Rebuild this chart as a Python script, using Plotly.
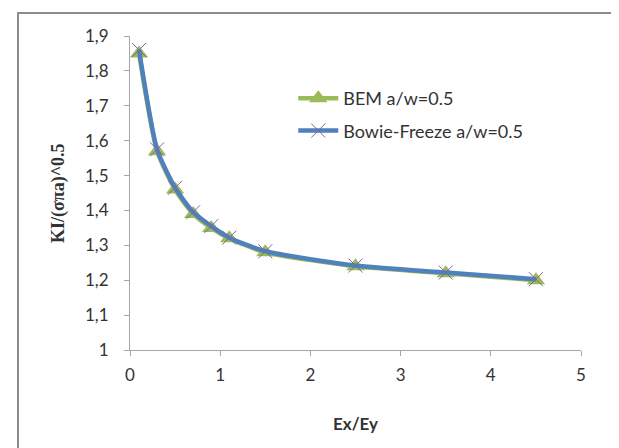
import plotly.graph_objects as go

ratio = [0.1, 0.3, 0.5, 0.7, 0.9, 1.1, 1.5, 2.5, 3.5, 4.5]
bem = [1.85, 1.57, 1.46, 1.39, 1.35, 1.32, 1.28, 1.24, 1.22, 1.20]
bowie = [1.86, 1.575, 1.465, 1.395, 1.355, 1.322, 1.283, 1.242, 1.222, 1.203]
y_ticks = [1.0, 1.1, 1.2, 1.3, 1.4, 1.5, 1.6, 1.7, 1.8, 1.9]
y_tick_labels = ["1", "1,1", "1,2", "1,3", "1,4", "1,5", "1,6", "1,7", "1,8", "1,9"]
x_ticks = [0, 1, 2, 3, 4, 5]

L, R, T, B = 122, 46, 28, 106
PW = 619 - L - R
PH = 448 - T - B

fig = go.Figure()
fig.add_trace(go.Scatter(
    x=ratio, y=bem, name="BEM a/w=0.5", mode="lines+markers",
    line=dict(color="#9BBB59", width=4.5, shape="spline", smoothing=0.6),
    marker=dict(symbol="triangle-up", size=16, color="#9BBB59"),
    legendgroup="a"))
fig.add_trace(go.Scatter(
    x=ratio, y=bowie, name="Bowie-Freeze a/w=0.5", mode="lines+markers",
    line=dict(color="#4F81BD", width=4.5, shape="spline", smoothing=0.6),
    marker=dict(symbol="x-thin", size=14, color="#8064A2",
                line=dict(color="#8064A2", width=1)),
    legendgroup="b"))

fig.update_layout(
    width=619, height=448,
    margin=dict(l=L, r=R, t=T, b=B),
    paper_bgcolor="white", plot_bgcolor="white",
    font=dict(family="Lato, Open Sans, sans-serif", size=17, color="#333"),
    showlegend=True,
    legend=dict(x=0.362, y=0.86, xanchor="left", yanchor="top",
                bgcolor="rgba(0,0,0,0)", tracegroupgap=6,
                font=dict(size=18), itemwidth=40),
    xaxis=dict(range=[0, 5], tickvals=x_ticks, showgrid=False, zeroline=False,
               showline=True, linecolor="#A6A6A6", linewidth=1,
               ticks="outside", ticklen=5, tickcolor="#A6A6A6",
               ticklabelstandoff=5),
    yaxis=dict(range=[1.0, 1.9], tickvals=y_ticks, ticktext=y_tick_labels,
               showgrid=False, zeroline=False,
               showline=True, linecolor="#A6A6A6", linewidth=1,
               ticks="outside", ticklen=5, tickcolor="#A6A6A6",
               ticklabelstandoff=12),
    annotations=[
        dict(text="<b>Ex/Ey</b>", xref="paper", yref="paper",
             x=(347 - L) / PW, y=(448 - B - 415) / PH,
             xanchor="center", yanchor="middle", showarrow=False,
             font=dict(size=17)),
        dict(text="<b>KI/(σπa)^0.5</b>", xref="paper", yref="paper",
             x=(50 - L) / PW, y=(448 - B - 185) / PH, textangle=-90,
             xanchor="center", yanchor="middle", showarrow=False,
             font=dict(family="Liberation Serif, Times New Roman, serif", size=18)),
    ],
    shapes=[dict(type="rect", xref="paper", yref="paper",
                 x0=(10 - L) / PW, x1=(610 - L) / PW,
                 y0=(448 - B - 460) / PH, y1=(448 - B - 5) / PH,
                 line=dict(color="#8C8C8C", width=2))],
)

fig.write_html("out.html")
